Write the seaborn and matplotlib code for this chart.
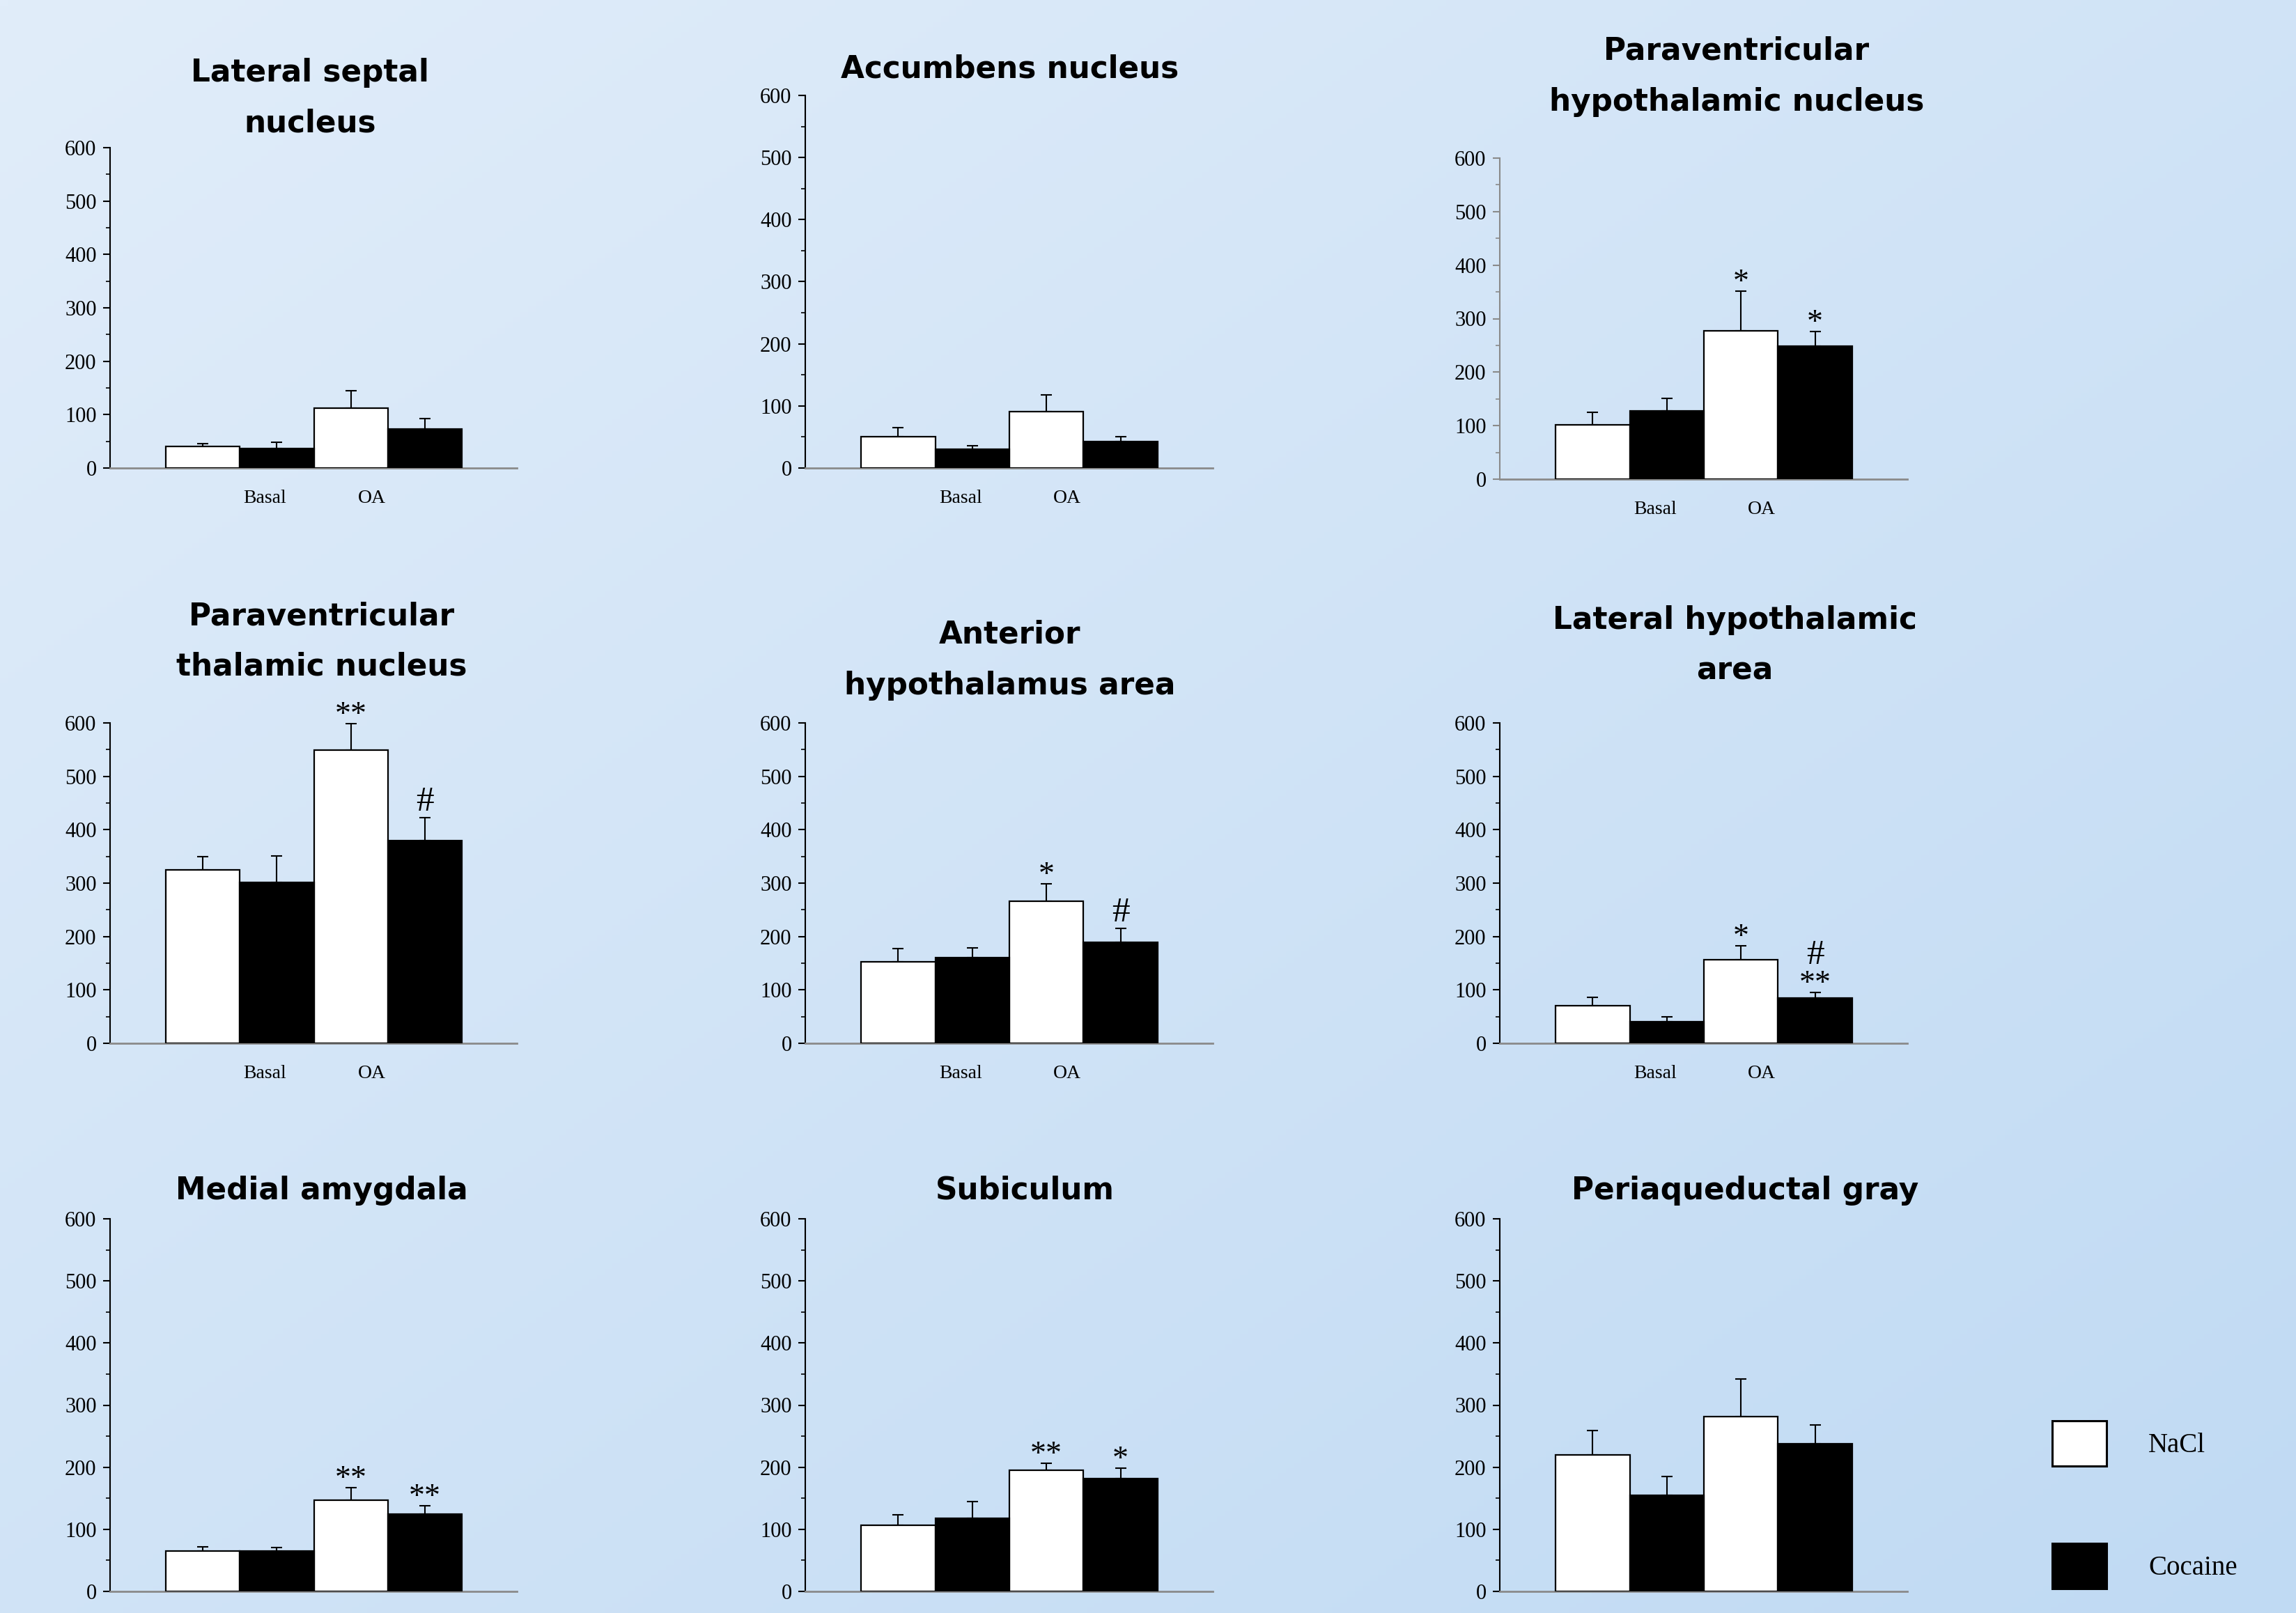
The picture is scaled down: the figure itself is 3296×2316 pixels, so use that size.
import matplotlib
matplotlib.use("Agg")
import matplotlib.pyplot as plt
import numpy as np
import pandas as pd
import seaborn as sns
from matplotlib.patches import Patch
from matplotlib.ticker import MultipleLocator

sns.set_style("ticks")
plt.rcParams["font.family"] = ["Liberation Serif", "DejaVu Sans"]
plt.rcParams["text.color"] = "black"
plt.rcParams["xtick.color"] = "black"
plt.rcParams["ytick.color"] = "black"
plt.rcParams["axes.labelcolor"] = "black"

# brain regions, one panel each (reading order)
regions = [
    "Lateral septal\nnucleus",
    "Accumbens nucleus",
    "Paraventricular\nhypothalamic nucleus",
    "Paraventricular\nthalamic nucleus",
    "Anterior\nhypothalamus area",
    "Lateral hypothalamic\narea",
    "Medial amygdala",
    "Subiculum",
    "Periaqueductal gray",
]
groups = ["Basal", "OA"]
treatments = ["NaCl", "Cocaine"]

# mean values
nacl_basal = [40, 51, 101, 325, 152, 71, 65, 107, 220]
cocaine_basal = [37, 30, 127, 301, 160, 40, 65, 118, 155]
nacl_oa = [112, 91, 277, 549, 266, 157, 147, 195, 281]
cocaine_oa = [73, 43, 248, 380, 189, 85, 125, 182, 238]

# SEM (upper whisker only)
sem_nacl_basal = [6, 14, 24, 25, 26, 15, 7, 16, 39]
sem_cocaine_basal = [11, 6, 24, 50, 19, 9, 6, 27, 30]
sem_nacl_oa = [33, 27, 74, 50, 33, 26, 20, 11, 61]
sem_cocaine_oa = [19, 7, 28, 43, 26, 10, 13, 17, 30]

# significance marks above the OA bars
marks_nacl_oa = ["", "", "*", "**", "*", "*", "**", "**", ""]
marks_cocaine_oa = ["", "", "*", "#", "#", "#\n**", "**", "*", ""]

# layout, in pixels of the 3296x2316 canvas
W, H = 3296, 2316
col_x = [(158, 742), (1156, 1741), (2153, 2738)]
axes_y = [(212, 672), (137, 672), (227, 688),
          (1038, 1498), (1038, 1498), (1038, 1498),
          (1750, 2285), (1750, 2285), (1750, 2285)]
title_x = [445, 1450, 2493, 462, 1450, 2490, 462, 1471, 2505]
title_y = [117, 111, 86, 897, 924, 903, 1722, 1722, 1722]

fig = plt.figure(figsize=(W / 100, H / 100), dpi=100)

# light blue gradient background
bg = fig.add_axes([0, 0, 1, 1], zorder=-10)
gx, gy = np.meshgrid(np.linspace(0, 1, 300), np.linspace(0, 1, 300))
t = 0.5 * gx + 0.5 * gy
c0 = np.array([225, 237, 250]) / 255
c1 = np.array([192, 218, 243]) / 255
bg.imshow(c0 + (c1 - c0) * t[..., None], aspect="auto", extent=[0, 1, 1, 0])
bg.axis("off")

for i, name in enumerate(regions):
    l, r = col_x[i % 3]
    top, bot = axes_y[i]
    ax = fig.add_axes([l / W, 1 - bot / H, (r - l) / W, (bot - top) / H])
    ax.patch.set_alpha(0)

    df = pd.DataFrame({
        "group": ["Basal", "Basal", "OA", "OA"],
        "treatment": ["NaCl", "Cocaine", "NaCl", "Cocaine"],
        "value": [nacl_basal[i], cocaine_basal[i], nacl_oa[i], cocaine_oa[i]],
        "sem": [sem_nacl_basal[i], sem_cocaine_basal[i], sem_nacl_oa[i], sem_cocaine_oa[i]],
        "mark": ["", "", marks_nacl_oa[i], marks_cocaine_oa[i]],
    })

    sns.barplot(data=df, x="group", y="value", hue="treatment",
                order=groups, hue_order=treatments,
                palette={"NaCl": "white", "Cocaine": "black"},
                edgecolor="black", linewidth=1.6, width=1,
                errorbar=None, legend=False, ax=ax, zorder=3)

    # one-sided error bars + significance marks
    for cont, trt in zip(ax.containers, treatments):
        for bar, grp in zip(cont, groups):
            row = df[(df.group == grp) & (df.treatment == trt)].iloc[0]
            cx = bar.get_x() + bar.get_width() / 2
            h = bar.get_height()
            ax.errorbar(cx, h, yerr=[[0], [row["sem"]]], fmt="none",
                        ecolor="black", elinewidth=1.5, capsize=6,
                        capthick=1.5, zorder=2)
            if row["mark"]:
                for k, line in enumerate(reversed(row["mark"].split("\n"))):
                    dy = 30 * k if k else (7 if line == "#" else 0)
                    ax.annotate(line, (cx, h + row["sem"]), xytext=(0, dy),
                                textcoords="offset points", ha="center",
                                va="baseline", fontsize=37 if line == "#" else 33,
                                family="Liberation Serif",
                                annotation_clip=False)

    ax.set_ylim(0, 600)
    ax.set_xlim(-0.877, 1.872)
    ax.yaxis.set_major_locator(MultipleLocator(100))
    ax.yaxis.set_minor_locator(MultipleLocator(50))
    ax.set_xticks([0.17, 0.89], groups)
    ax.set_xlabel("")
    ax.set_ylabel("")
    ax.tick_params(axis="x", length=0, pad=22, labelsize=20)
    ax.tick_params(axis="y", which="major", length=7, width=1.5, pad=7, labelsize=22)
    ax.tick_params(axis="y", which="minor", length=4, width=1.2)
    sns.despine(ax=ax)
    ax.spines["bottom"].set_color("#8a8a8a")
    ax.spines["bottom"].set_linewidth(2)
    ax.spines["left"].set_linewidth(1.5)
    ax.spines["left"].set_color("black")
    if i == 2:
        ax.spines["left"].set_color("#8a8a8a")
        ax.tick_params(axis="y", which="both", color="#8a8a8a")

    for k, line in enumerate(name.split("\n")):
        fig.text(title_x[i] / W, 1 - (title_y[i] + 73 * k) / H, line,
                 ha="center", va="baseline", fontsize=31.5, fontweight="bold",
                 family="DejaVu Sans", color="black")

handles = [Patch(facecolor="white", edgecolor="black", linewidth=2.2, label="NaCl"),
           Patch(facecolor="black", edgecolor="black", linewidth=2.2, label="Cocaine")]
fig.legend(handles=handles, loc="upper left", bbox_to_anchor=(2946 / W, 1 - 2040 / H),
           frameon=False, prop={"family": "Liberation Serif", "size": 28},
           handlelength=2.0, handleheight=2.2, labelspacing=2.85,
           handletextpad=1.55, borderpad=0, borderaxespad=0)

fig.savefig("out.png", dpi=100)
